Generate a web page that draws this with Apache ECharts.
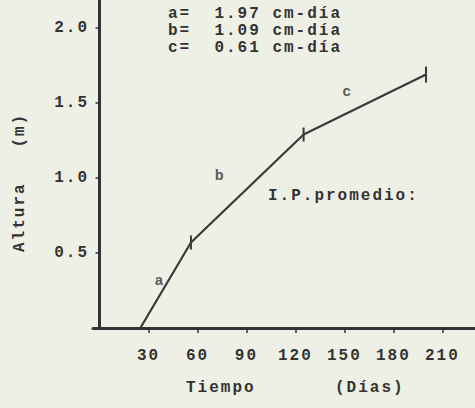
<!DOCTYPE html>
<html>
<head>
<meta charset="utf-8">
<script src="https://cdn.jsdelivr.net/npm/echarts@6/dist/echarts.min.js"></script>
<style>
  html, body { margin: 0; padding: 0; background: #eef0e6; }
  #chart { width: 475px; height: 408px; }
  /* typewriter look: wide letter pitch */
  #chart text { letter-spacing: 2px; }
</style>
</head>
<body>
<div id="chart"></div>
<script>
// days / height (m) along the growth curve
const dias = [25, 56, 125, 200]
const altura = [0, 0.57, 1.29, 1.69]
const barra = [0, 14, 14, 16]          // length of the short vertical marks
const xTicks = [30, 60, 90, 120, 150, 180, 210]
const yTicks = [0.5, 1.0, 1.5, 2.0]
// segment letters and their place on the plot
const tramos = ['a', 'b', 'c']
const tramoX = [37, 74, 152]
const tramoY = [0.31, 1.01, 1.57]
const tasas = [1.97, 1.09, 0.61]

const font = 'Liberation Mono'
const ink = '#333'
const txt = 'bold 16px ' + font

const chart = echarts.init(document.getElementById('chart'), null, { renderer: 'svg' })

const lineas = tramos.map((t, i) => ({
  type: 'text',
  left: 168,
  top: 6 + i * 17,
  style: { text: t + '=  ' + tasas[i].toFixed(2) + ' cm-día', font: txt, fill: ink }
}))

chart.setOption({
  backgroundColor: '#eef0e6',
  animation: false,
  grid: { left: 93, right: 0, top: 0, bottom: 80 },
  xAxis: {
    type: 'value',
    min: -4,
    max: 230,
    splitLine: { show: false },
    axisLine: { lineStyle: { color: ink, width: 3 } },
    axisTick: { customValues: xTicks, length: 5, lineStyle: { color: ink, width: 1.5 } },
    axisLabel: { customValues: xTicks, margin: 20, color: ink, fontFamily: font, fontSize: 16, fontWeight: 'bold' }
  },
  yAxis: {
    type: 'value',
    min: 0,
    max: 2.187,
    splitLine: { show: false },
    axisLine: { show: true, lineStyle: { color: ink, width: 3 } },
    axisTick: { show: true, customValues: yTicks, length: 4, lineStyle: { color: ink, width: 1.5 } },
    axisLabel: {
      customValues: yTicks, margin: 4, color: ink, fontFamily: font, fontSize: 16, fontWeight: 'bold',
      formatter: v => v.toFixed(1)
    }
  },
  series: [
    {
      type: 'line',
      data: dias.map((d, i) => ({
        value: [d, altura[i]],
        symbol: barra[i] ? 'rect' : 'none',
        symbolSize: [2, barra[i]]
      })),
      lineStyle: { color: '#3a3a3a', width: 2.2 },
      itemStyle: { color: '#3a3a3a' }
    },
    {
      type: 'scatter',
      symbolSize: 0,
      data: tramos.map((t, i) => [tramoX[i], tramoY[i], t]),
      label: {
        show: true,
        position: 'inside',
        formatter: p => p.value[2],
        fontFamily: font,
        fontSize: 15,
        fontWeight: 'bold',
        color: ink
      }
    }
  ],
  graphic: lineas.concat([
    {
      type: 'text', left: 268, top: 188,
      style: { text: 'I.P.promedio:', font: txt, fill: ink }
    },
    {
      type: 'text', left: 186, top: 380,
      style: { text: 'Tiempo', font: txt, fill: ink }
    },
    {
      type: 'text', left: 335, top: 380,
      style: { text: '(Días)', font: txt, fill: ink }
    },
    {
      type: 'text', x: 12, y: 252, rotation: Math.PI / 2,
      style: { text: 'Altura   (m)', font: txt, fill: ink }
    }
  ])
})
</script>
</body>
</html>
